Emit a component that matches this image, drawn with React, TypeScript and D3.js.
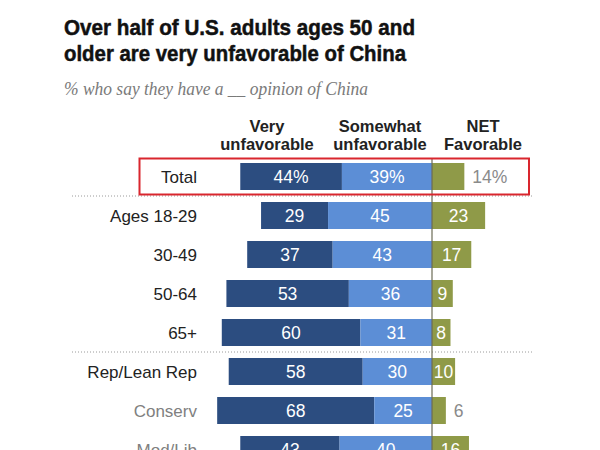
import React from "react";
import * as d3 from "d3";

const categories = ["Total", "Ages 18-29", "30-49", "50-64", "65+", "Rep/Lean Rep", "Conserv", "Mod/Lib"];
const veryUnfav = [44, 29, 37, 53, 60, 58, 68, 43];
const somewhatUnfav = [39, 45, 43, 36, 31, 30, 25, 40];
const netFav = [14, 23, 17, 9, 8, 10, 6, 16];
const subCategories = ["Conserv", "Mod/Lib"];
const separatorsAfter = ["Total", "65+"];
const headers = [["Very", "unfavorable"], ["Somewhat", "unfavorable"], ["NET", "Favorable"]];

const W = 600;
const H = 450;
const ZERO = 432;
const UNIT = 2.31;
const DARK = "#2C4D80";
const LIGHT = "#5C8ED6";
const GREEN = "#8F9A48";
const FONT = "'Liberation Sans', Arial, sans-serif";

export default function App() {
  const x = d3.scaleLinear().domain([-100, 100]).range([ZERO - 100 * UNIT, ZERO + 100 * UNIT]);
  const y = d3.scalePoint<string>().domain(categories).range([176.5, 176.5 + 39 * (categories.length - 1)]);
  const barH = 27;

  const fmt = (v: number, i: number) => (i === 0 ? `${v}%` : `${v}`);
  const textW = (s: string) => s.replace("%", "").length * 8.5 + (s.includes("%") ? 14 : 0);

  return (
    <div style={{ position: "fixed", left: 0, top: 0, width: W, height: H, background: "#fff" }}>
      <svg width={W} height={H} viewBox={`0 0 ${W} ${H}`} style={{ display: "block" }}>
        <rect width={W} height={H} fill="#fff" />
        <text x={64} y={35} fontFamily={FONT} fontWeight="bold" fontSize={22.5} fill="#111" stroke="#111" strokeWidth={0.5} textLength={351} lengthAdjust="spacingAndGlyphs">
          Over half of U.S. adults ages 50 and
        </text>
        <text x={64} y={60.5} fontFamily={FONT} fontWeight="bold" fontSize={22.5} fill="#111" stroke="#111" strokeWidth={0.5} textLength={342} lengthAdjust="spacingAndGlyphs">
          older are very unfavorable of China
        </text>
        <text x={64} y={95} fontFamily="'Liberation Serif', 'DejaVu Serif', serif" fontStyle="italic" fontSize={18} fill="#7a7a7a" textLength={304} lengthAdjust="spacingAndGlyphs">
          % who say they have a __ opinion of China
        </text>

        {headers.map((h, k) => {
          const cx = k === 0 ? 267 : k === 1 ? 380 : 483;
          return (
            <text key={k} x={cx} textAnchor="middle" fontFamily={FONT} fontWeight="bold" fontSize={16.5} fill="#222">
              <tspan x={cx} y={132}>{h[0]}</tspan>
              <tspan x={cx} y={150}>{h[1]}</tspan>
            </text>
          );
        })}

        {separatorsAfter.map((c) => {
          const i = categories.indexOf(c);
          const yy = ((y(categories[i]) as number) + (y(categories[i + 1]) as number)) / 2;
          return (
            <line key={c} x1={72} x2={533} y1={yy} y2={yy} stroke="#9a9a9a" strokeWidth={1} strokeDasharray="1,2" />
          );
        })}

        {categories.map((c, i) => {
          const cy = y(c) as number;
          const top = cy - barH / 2;
          const v = veryUnfav[i];
          const s = somewhatUnfav[i];
          const f = netFav[i];
          const xLightStart = x(-s);
          const xDarkStart = x(-(s + v));
          const greenW = x(f) - x(0);
          const gl = fmt(f, i);
          const inside = greenW >= textW(gl) + 6;
          const valueFs = 17.5;
          return (
            <g key={c}>
              <text x={197} y={cy + 6} textAnchor="end" fontFamily={FONT} fontSize={17} fill={subCategories.includes(c) ? "#808080" : "#222"}>
                {c}
              </text>
              <rect x={xDarkStart} y={top} width={xLightStart - xDarkStart} height={barH} fill={DARK} />
              <rect x={xLightStart} y={top} width={x(0) - xLightStart} height={barH} fill={LIGHT} />
              <rect x={x(0)} y={top} width={greenW} height={barH} fill={GREEN} />
              <text x={(xDarkStart + xLightStart) / 2} y={cy + 6} textAnchor="middle" fontFamily={FONT} fontSize={valueFs} fill="#fff">
                {fmt(v, i)}
              </text>
              <text x={(xLightStart + x(0)) / 2} y={cy + 6} textAnchor="middle" fontFamily={FONT} fontSize={valueFs} fill="#fff">
                {fmt(s, i)}
              </text>
              <text
                x={inside ? x(0) + greenW / 2 : x(0) + greenW + 8}
                y={cy + 6}
                textAnchor={inside ? "middle" : "start"}
                fontFamily={FONT}
                fontSize={valueFs}
                fill={inside ? "#fff" : "#8a8a8a"}
              >
                {gl}
              </text>
            </g>
          );
        })}

        <line x1={ZERO} x2={ZERO} y1={158} y2={H} stroke="#6b6b55" strokeWidth={1.2} />
        <rect x={139.5} y={158.5} width={389.5} height={36} fill="none" stroke="#D9262E" strokeWidth={2} />
      </svg>
    </div>
  );
}
